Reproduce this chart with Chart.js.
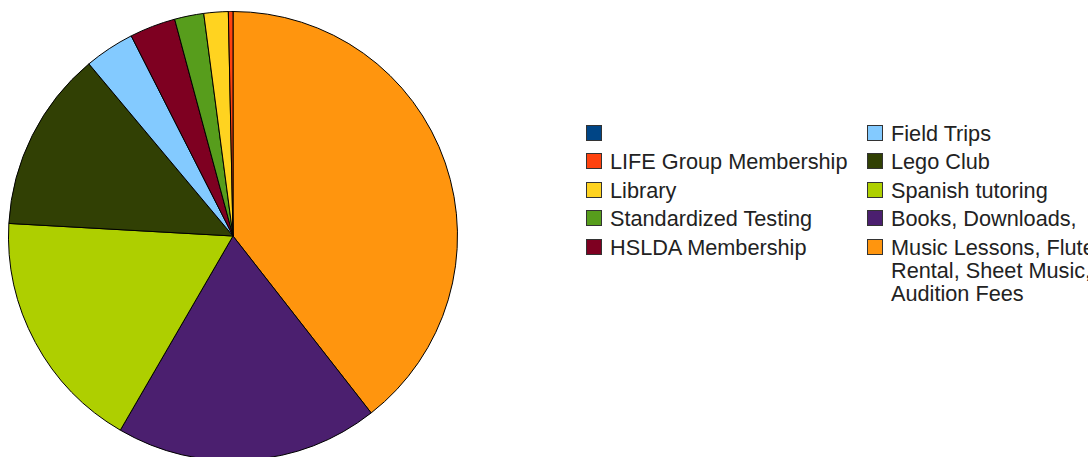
<!DOCTYPE html>
<html>
<head>
<meta charset="utf-8">
<script src="https://cdn.jsdelivr.net/npm/chart.js@4.4.1/dist/chart.umd.min.js"></script>
<style>
  html, body { margin: 0; padding: 0; background: #fff; overflow: hidden; }
  #wrap { position: relative; width: 1088px; height: 457px; overflow: hidden; }
  #pieBox { position: absolute; left: 0; top: 0; width: 466px; height: 472px; }
  #legend { position: absolute; left: 586px; top: 125px; font-family: "Liberation Sans", Arial, sans-serif; font-size: 21.7px; color: #222; }
  .col { position: absolute; top: 0; }
  .item { position: relative; height: 28.4px; white-space: nowrap; }
  .sw { position: absolute; left: 0; top: 0; width: 14px; height: 14px; border: 1px solid #333; }
  .lbl { position: absolute; left: 24px; top: -3px; line-height: 23px; }
</style>
</head>
<body>
<div id="wrap">
  <div id="pieBox"><canvas id="pie"></canvas></div>
  <div id="legend"></div>
</div>
<script>
  // legend order (LibreOffice draws the slices counter-clockwise in this order)
  const categories = [
    "",
    "LIFE Group Membership",
    "Library",
    "Standardized Testing",
    "HSLDA Membership",
    "Field Trips",
    "Lego Club",
    "Spanish tutoring",
    "Books, Downloads,",
    ["Music Lessons, Flute", "Rental, Sheet Music,", "Audition Fees"]
  ];
  const spending = [0, 0.33, 1.75, 2.1, 3.3, 3.6, 13.0, 17.5, 18.9, 39.4];
  const colors = ["#004586", "#ff420e", "#ffd320", "#579d1c", "#7e0021",
                  "#83caff", "#314004", "#aecf00", "#4b1f6f", "#ff950e"];

  // chart.js goes clockwise, so feed it reversed
  const rev = a => a.slice().reverse();

  const ctx = document.getElementById("pie").getContext("2d");
  new Chart(ctx, {
    type: "pie",
    data: {
      labels: rev(categories),
      datasets: [{
        data: rev(spending),
        backgroundColor: rev(colors),
        borderColor: "#000",
        borderWidth: 1
      }]
    },
    options: {
      responsive: true,
      maintainAspectRatio: false,
      animation: false,
      layout: { padding: { top: 11, bottom: 11, left: 8, right: 8 } },
      plugins: {
        legend: { display: false },
        tooltip: { enabled: false }
      }
    }
  });

  // two column legend, filled down then across
  const legend = document.getElementById("legend");
  const colX = [0, 281];
  for (let c = 0; c < 2; c++) {
    const col = document.createElement("div");
    col.className = "col";
    col.style.left = colX[c] + "px";
    for (let i = c * 5; i < c * 5 + 5; i++) {
      const item = document.createElement("div");
      item.className = "item";
      const sw = document.createElement("div");
      sw.className = "sw";
      sw.style.background = colors[i];
      const lbl = document.createElement("div");
      lbl.className = "lbl";
      const text = Array.isArray(categories[i]) ? categories[i] : [categories[i]];
      text.forEach((t, k) => {
        if (k) lbl.appendChild(document.createElement("br"));
        lbl.appendChild(document.createTextNode(t));
      });
      item.appendChild(sw);
      item.appendChild(lbl);
      col.appendChild(item);
    }
    legend.appendChild(col);
  }
</script>
</body>
</html>
